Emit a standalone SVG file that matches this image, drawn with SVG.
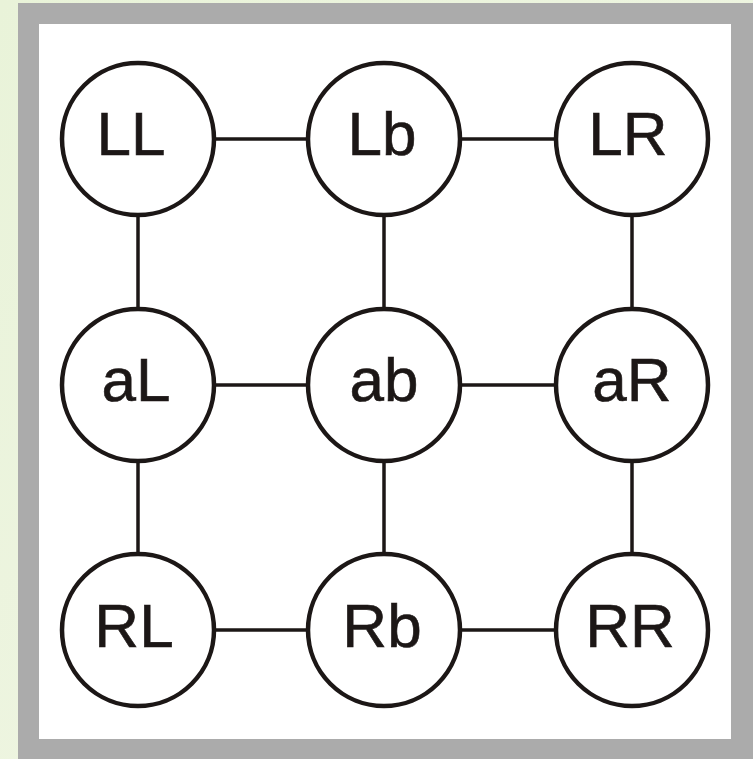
<svg xmlns="http://www.w3.org/2000/svg" width="753" height="759" viewBox="0 0 753 759">
  <defs>
    <linearGradient id="bg" x1="0" y1="0" x2="1" y2="1">
      <stop offset="0" stop-color="#e9f3d9"/>
      <stop offset="1" stop-color="#f1f6e6"/>
    </linearGradient>
  </defs>
  <style>
    .node circle { fill: #ffffff; stroke: #1c1716; stroke-width: 4.5; }
    .node text { font-family: "Liberation Sans", Arial, sans-serif; font-size: 62px; fill: #1c1716; stroke: #1c1716; stroke-width: 0.6; text-anchor: middle; }
    #edges line { stroke: #1c1716; stroke-width: 3.5; }
  </style>
  <rect x="0" y="0" width="753" height="759" fill="url(#bg)"/>
  <!-- frame -->
  <rect x="18" y="3" width="735" height="756" fill="#ababab"/>
  <rect x="39" y="24" width="692" height="715" fill="#ffffff"/>
  <!-- connectors -->
  <g id="edges">
    <line x1="216" y1="139" x2="306" y2="139"/>
    <line x1="462" y1="139" x2="554" y2="139"/>
    <line x1="216" y1="385" x2="306" y2="385"/>
    <line x1="462" y1="385" x2="554" y2="385"/>
    <line x1="216" y1="630" x2="306" y2="630"/>
    <line x1="462" y1="630" x2="554" y2="630"/>
    <line x1="138" y1="217" x2="138" y2="307"/>
    <line x1="138" y1="463" x2="138" y2="552"/>
    <line x1="384" y1="217" x2="384" y2="307"/>
    <line x1="384" y1="463" x2="384" y2="552"/>
    <line x1="632" y1="217" x2="632" y2="307"/>
    <line x1="632" y1="463" x2="632" y2="552"/>
  </g>
  <g id="LL" class="node"><circle cx="138" cy="139" r="76"/><text x="131" y="155">LL</text></g>
  <g id="Lb" class="node"><circle cx="384" cy="139" r="76"/><text x="382" y="155">Lb</text></g>
  <g id="LR" class="node"><circle cx="632" cy="139" r="76"/><text x="628" y="155">LR</text></g>
  <g id="aL" class="node"><circle cx="138" cy="385" r="76"/><text x="136" y="401">aL</text></g>
  <g id="ab" class="node"><circle cx="384" cy="385" r="76"/><text x="384" y="401">ab</text></g>
  <g id="aR" class="node"><circle cx="632" cy="385" r="76"/><text x="632" y="401">aR</text></g>
  <g id="RL" class="node"><circle cx="138" cy="630" r="76"/><text x="134" y="647">RL</text></g>
  <g id="Rb" class="node"><circle cx="384" cy="630" r="76"/><text x="382" y="647">Rb</text></g>
  <g id="RR" class="node"><circle cx="632" cy="630" r="76"/><text x="630" y="647">RR</text></g>
</svg>
